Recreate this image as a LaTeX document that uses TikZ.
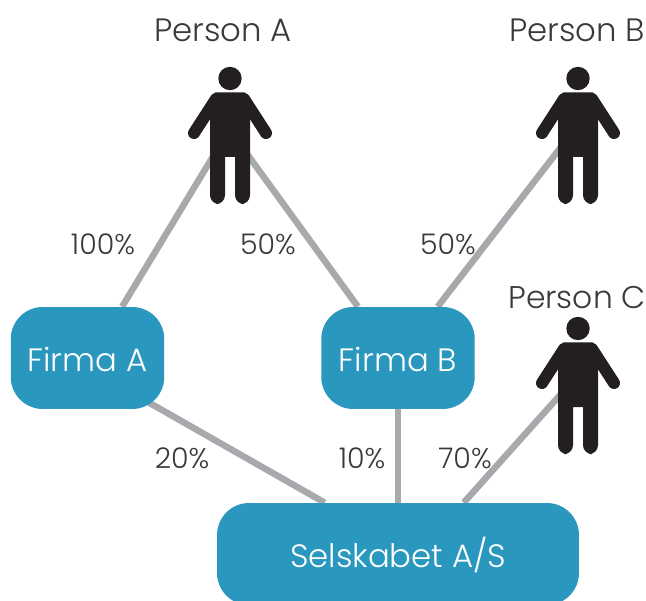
\documentclass[tikz,border=0pt]{standalone}
\usepackage{fontspec}
\setmainfont{Poppins Light}
\usetikzlibrary{positioning,calc,backgrounds}

\definecolor{boxBlue}{HTML}{2A97BF}
\definecolor{lineGray}{HTML}{A7A9AC}
\definecolor{figBlack}{HTML}{231F20}
\definecolor{textGray}{HTML}{3A3A3C}

\tikzset{
  boxNode/.style={fill=boxBlue,text=white,rounded corners=0.64cm,minimum height=2.04cm,inner sep=0pt,text height=0.54cm,text depth=0pt,font=\fontsize{18.4}{22}\selectfont},
  linkLine/.style={draw=lineGray,line width=0.13cm},
  pctLabel/.style={text=textGray,font=\fontsize{16.2}{19}\selectfont,inner sep=0pt},
  nameLabel/.style={text=textGray,font=\fontsize{18.4}{22}\selectfont,inner sep=0pt},
  person/.pic={
    \fill[figBlack] (0,-46.5) circle (11.7);
    \draw[figBlack,line width=0.24cm,line cap=round] (-14,-26) -- (-36,8);
    \draw[figBlack,line width=0.24cm,line cap=round] (14,-26) -- (36,8);
    \fill[figBlack] (-5,32) [rounded corners=5] -- (-5,79) -- (-20,79)
      [sharp corners] -- (-20,-20) -- (-15,-32.5) -- (15,-32.5) -- (20,-20)
      [rounded corners=5] -- (20,79) -- (5,79)
      [sharp corners] -- (5,32) -- cycle;
  }
}

\begin{document}
\begin{tikzpicture}[x=0.02cm,y=-0.02cm]
  \useasboundingbox (0,0) rectangle (646,601);

  % boxes
  \node[boxNode,minimum width=3.07cm] (firmaA) at (87.5,358) {Firma A};
  \node[boxNode,minimum width=3.07cm] (firmaB) at (398,358) {Firma B};
  \node[boxNode,minimum width=7.24cm] (selskab) at (398,554) {Selskabet A/S};

  % persons
  \coordinate (personA) at (230,125);
  \coordinate (personB) at (578,125);
  \coordinate (personC) at (578,375);

  % links
  \begin{scope}[on background layer]
    \draw[linkLine] (firmaA.56.7) -- ([xshift=0.04cm]personA);
    \draw[linkLine] (firmaB.128) -- ([xshift=-0.08cm]personA);
    \draw[linkLine] (firmaB) -- (personB);
    \draw[linkLine] (selskab.38) -- (personC);
    \draw[linkLine] ($(firmaA.-35.7)!-0.1!(selskab.145)$) -- (selskab.145);
    \draw[linkLine] (firmaB) -- (selskab);
  \end{scope}

  \pic at (personA) {person};
  \pic at (personB) {person};
  \pic at (personC) {person};

  % names
  \node[nameLabel] (nameA) at (223,30) {Person A};
  \node[nameLabel] (nameB) at (577,30) {Person B};
  \node[nameLabel,scale=0.97] (nameC) at (577,298) {Person C};

  % shares
  \node[pctLabel] (pctAA) at (103,244) {100\%};
  \node[pctLabel] (pctBA) at (268,244) {50\%};
  \node[pctLabel] (pctBB) at (448,244) {50\%};
  \node[pctLabel] (pctAS) at (182,458) {20\%};
  \node[pctLabel] (pctBS) at (362,458) {10\%};
  \node[pctLabel] (pctCS) at (465,458) {70\%};
\end{tikzpicture}
\end{document}
